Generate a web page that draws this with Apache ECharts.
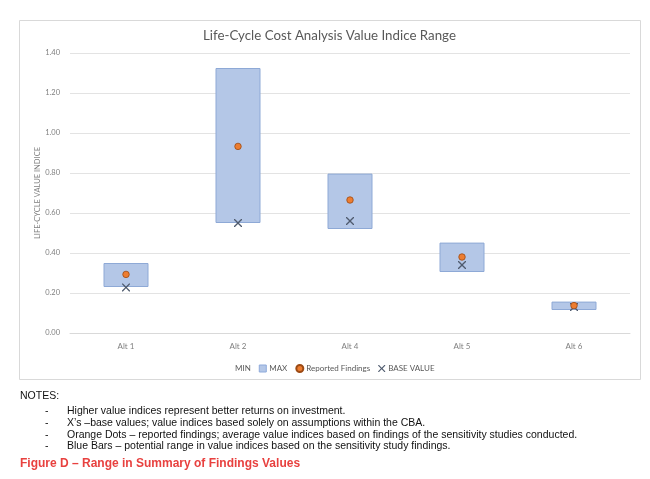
<!DOCTYPE html>
<html><head><meta charset="utf-8">
<script src="https://cdn.jsdelivr.net/npm/echarts@6/dist/echarts.min.js"></script>
<style>html,body{margin:0;padding:0;background:#fff}#c{width:650px;height:479px}</style>
</head><body><div id="c"></div>
<script>
const categories = ['Alt 1', 'Alt 2', 'Alt 4', 'Alt 5', 'Alt 6'];
const minValues = [0.23, 0.55, 0.52, 0.305, 0.115];
const maxValues = [0.35, 1.325, 0.797, 0.452, 0.157];
const reportedFindings = [0.293, 0.933, 0.665, 0.38, 0.137];
const baseValues = [0.228, 0.55, 0.56, 0.34, 0.13];
const yTicks = [0, 0.2, 0.4, 0.6, 0.8, 1.0, 1.2, 1.4];
const notes = [
  'Higher value indices represent better returns on investment.',
  'X\u2019s \u2013base values; value indices based solely on assumptions within the CBA.',
  'Orange Dots \u2013 reported findings; average value indices based on findings of the sensitivity studies conducted.',
  'Blue Bars \u2013 potential range in value indices based on the sensitivity study findings.'
];

const rangeValues = maxValues.map((v, i) => +(v - minValues[i]).toFixed(4));
const xPath = 'path://M0,0L1.2,0L5,3.8L8.8,0L10,0L10,1.2L6.2,5L10,8.8L10,10L8.8,10L5,6.2L1.2,10L0,10L0,8.8L3.8,5L0,1.2Z';
const gray = '#7f7f7f';
const F = 'Lato, "Open Sans", sans-serif';
const NF = '10.5px "Liberation Sans", Arial';

const graphics = [
  {type:'rect', shape:{x:19.5, y:20.5, width:621, height:359}, style:{fill:'none', stroke:'#d9d9d9', lineWidth:1}, z:-1},
  {type:'text', left:20, top:391, style:{text:'NOTES:', font:NF, fill:'#111'}}
];
notes.forEach((t, i) => {
  graphics.push({type:'text', left:45, top:406 + i*11.6, style:{text:'-', font:NF, fill:'#111'}});
  graphics.push({type:'text', left:67, top:406 + i*11.6, style:{text:t, font:NF, fill:'#111'}});
});
graphics.push({type:'text', left:20, top:458, style:{text:'Figure D \u2013 Range in Summary of Findings Values', font:'bold 12px "Liberation Sans", Arial', fill:'#e8413f'}});

const chart = echarts.init(document.getElementById('c'));
chart.setOption({
  animation:false,
  backgroundColor:'#fff',
  title:{text:'Life-Cycle Cost Analysis Value Indice Range', left:198, top:24,
    textStyle:{fontFamily:F, fontSize:13.3, fontWeight:'normal', color:'#595959'}},
  legend:{left:220, top:359, itemWidth:7, itemHeight:7, itemGap:8,
    textStyle:{fontFamily:F, fontSize:8, color:'#595959', padding:[0,0,0,-2]},
    data:[
      {name:'MIN', icon:'rect', itemStyle:{color:'rgba(0,0,0,0)', borderWidth:0}},
      {name:'MAX', icon:'rect', itemStyle:{color:'#b4c7e7', borderColor:'#8eaadb', borderWidth:1}},
      {name:'Reported Findings', icon:'circle'},
      {name:'BASE VALUE', icon:xPath}
    ]},
  grid:{left:70, right:20, top:53, bottom:146},
  xAxis:{type:'category', data:categories,
    axisLine:{lineStyle:{color:'#d9d9d9'}}, axisTick:{show:false},
    axisLabel:{fontFamily:F, fontSize:8, color:gray, margin:9}},
  yAxis:{type:'value', min:0, max:1.4, interval:0.2,
    name:'LIFE-CYCLE VALUE INDICE', nameLocation:'middle', nameRotate:90, nameGap:28,
    nameMoveOverlap:false,
    nameTextStyle:{fontFamily:F, fontSize:7.5, color:gray},
    axisLine:{show:false}, axisTick:{show:false},
    splitLine:{lineStyle:{color:'#e3e3e3'}},
    axisLabel:{fontFamily:F, fontSize:7.5, color:gray, margin:10, formatter:v => v.toFixed(2)}},
  series:[
    {name:'MIN', type:'bar', stack:'r', data:minValues, barWidth:45,
      itemStyle:{color:'rgba(0,0,0,0)'}, emphasis:{disabled:true}},
    {name:'MAX', type:'bar', stack:'r', data:rangeValues, barWidth:45,
      itemStyle:{color:'#b4c7e7', borderColor:'#8ea9d6', borderWidth:1}},
    {name:'Reported Findings', type:'scatter', data:reportedFindings, symbol:'circle', symbolSize:6.5,
      itemStyle:{color:'#ed7d31', borderColor:'#9c4a14', borderWidth:0.8, opacity:1}, z:5},
    {name:'BASE VALUE', type:'scatter', data:baseValues, symbol:xPath, symbolSize:8,
      itemStyle:{color:'#4f5b6e', opacity:1}, z:4}
  ],
  graphic:graphics
});
</script></body></html>
